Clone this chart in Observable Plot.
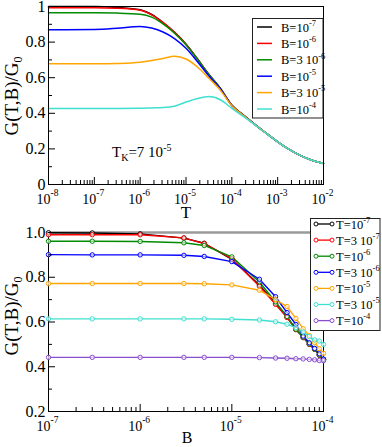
<!DOCTYPE html>
<html><head><meta charset="utf-8">
<script src="https://cdn.jsdelivr.net/npm/d3@7"></script>
<script src="https://cdn.jsdelivr.net/npm/@observablehq/plot@0.6"></script>
<style>
body{margin:0;background:#fff}
#wrap{position:relative;width:382px;height:447px;overflow:hidden;font-family:"Liberation Serif","Times New Roman",serif}
#wrap>svg{position:absolute;left:0}
</style></head><body><div id="wrap"></div>
<script>
// ---------- Top panel data: G(T,B)/G0 vs T ----------
const tValues = [1e-8, 1e-7, 3.16e-7, 1e-6, 1.78e-6, 3.16e-6, 5.62e-6, 1e-5, 1.78e-5, 3.16e-5, 5.62e-5, 1e-4, 1.78e-4, 3.16e-4, 5.62e-4, 1e-3, 1.78e-3, 3.16e-3, 5.62e-3, 1e-2];
const gB1e7  = [1.0, 1.0, 0.995, 0.982, 0.955, 0.91, 0.855, 0.788, 0.705, 0.618, 0.54, 0.445, 0.39, 0.338, 0.288, 0.24, 0.197, 0.162, 0.136, 0.118];
const gB1e6  = [0.993, 0.993, 0.99, 0.979, 0.953, 0.909, 0.855, 0.788, 0.705, 0.618, 0.54, 0.445, 0.39, 0.338, 0.288, 0.24, 0.197, 0.162, 0.136, 0.118];
const gB3e6  = [0.965, 0.965, 0.963, 0.956, 0.94, 0.902, 0.85, 0.785, 0.704, 0.618, 0.54, 0.445, 0.39, 0.338, 0.288, 0.24, 0.197, 0.162, 0.136, 0.118];
const gB1e5  = [0.869, 0.871, 0.878, 0.888, 0.879, 0.857, 0.82, 0.765, 0.69, 0.61, 0.537, 0.444, 0.39, 0.338, 0.288, 0.24, 0.197, 0.162, 0.136, 0.118];
const gB3e5  = [0.678, 0.678, 0.68, 0.687, 0.697, 0.708, 0.72, 0.705, 0.66, 0.597, 0.53, 0.443, 0.389, 0.338, 0.288, 0.24, 0.197, 0.162, 0.136, 0.118];
const gB1e4  = [0.427, 0.427, 0.427, 0.428, 0.43, 0.432, 0.44, 0.463, 0.483, 0.494, 0.476, 0.428, 0.383, 0.336, 0.287, 0.24, 0.197, 0.162, 0.136, 0.118];
const topLabels = ["B=10^-7", "B=10^-6", "B=3 10^-6", "B=10^-5", "B=3 10^-5", "B=10^-4"];
const topColors = ["#000000", "#ff0000", "#008b00", "#0000ff", "#ffa500", "#40e0d0"];
const topValues = [gB1e7, gB1e6, gB3e6, gB1e5, gB3e5, gB1e4];

// ---------- Bottom panel data: G(T,B)/G0 vs B ----------
const bValues = [1e-7, 3e-7, 1e-6, 3e-6, 5e-6, 1e-5, 2e-5, 3e-5, 4e-5, 5e-5, 6e-5, 7e-5, 8e-5, 9e-5, 1e-4];
const gT1e7 = [0.999, 0.998, 0.994, 0.975, 0.952, 0.88, 0.765, 0.683, 0.622, 0.566, 0.532, 0.5, 0.478, 0.452, 0.432];
const gT3e7 = [0.99, 0.99, 0.99, 0.976, 0.95, 0.883, 0.76, 0.679, 0.62, 0.567, 0.53, 0.5, 0.478, 0.452, 0.433];
const gT1e6 = [0.961, 0.961, 0.96, 0.954, 0.942, 0.891, 0.779, 0.69, 0.625, 0.568, 0.532, 0.502, 0.479, 0.453, 0.433];
const gT3e6 = [0.901, 0.9, 0.9, 0.898, 0.893, 0.87, 0.791, 0.713, 0.642, 0.589, 0.537, 0.507, 0.482, 0.458, 0.434];
const gT1e5 = [0.772, 0.772, 0.772, 0.772, 0.771, 0.766, 0.742, 0.7, 0.669, 0.616, 0.57, 0.539, 0.508, 0.481, 0.46];
const gT3e5 = [0.614, 0.614, 0.614, 0.614, 0.614, 0.612, 0.609, 0.601, 0.59, 0.575, 0.555, 0.535, 0.52, 0.515, 0.5];
const gT1e4 = [0.442, 0.442, 0.442, 0.442, 0.442, 0.442, 0.441, 0.439, 0.438, 0.436, 0.435, 0.433, 0.431, 0.428, 0.427];
const botLabels = ["T=10^-7", "T=3 10^-7", "T=10^-6", "T=3 10^-6", "T=10^-5", "T=3 10^-5", "T=10^-4"];
const botColors = ["#000000", "#ff0000", "#008b00", "#0000ff", "#ffa500", "#40e0d0", "#8a4fcf"];
const botValues = [gT1e7, gT3e7, gT1e6, gT3e6, gT1e5, gT3e5, gT1e4];

// ---------- Ticks ----------
const tMajor = [1e-8, 1e-7, 1e-6, 1e-5, 1e-4, 1e-3, 1e-2];
const tMajorExp = ["-8", "-7", "-6", "-5", "-4", "-3", "-2"];
const bMajor = [1e-7, 1e-6, 1e-5, 1e-4];
const bMajorExp = ["-7", "-6", "-5", "-4"];
const mantissas = [2, 3, 4, 5, 6, 7, 8, 9];
const topYMajor = [0, 0.2, 0.4, 0.6, 0.8, 1];
const topYLabels = ["0", "0.2", "0.4", "0.6", "0.8", "1"];
const topYMinor = [0.1, 0.3, 0.5, 0.7, 0.9];
const botYMajor = [0.2, 0.4, 0.6, 0.8, 1.0];
const botYLabels = ["0.2", "0.4", "0.6", "0.8", "1.0"];
const botYMinor = [0.3, 0.5, 0.7, 0.9];

const minorsOf = (majors) => majors.slice(0, -1).flatMap(d => mantissas.map(m => m * d));

const topData = topLabels.flatMap((s, i) => tValues.map((T, j) => ({s, T, G: topValues[i][j]})));
const botData = botLabels.flatMap((s, i) => bValues.map((B, j) => ({s, B, G: botValues[i][j]})));

const FONT = "Liberation Serif, Times New Roman, serif";
const W = 382, ML = 48, MR = 59, PW = W - ML - MR;
const H1 = 220, MT1 = 6, MB1 = 36, PH1 = H1 - MT1 - MB1;
const TOP2 = 220, H2 = 227, MT2 = 12, MB2 = 36, PH2 = H2 - MT2 - MB2;

const axisMarks = (majors, exps, yMajor, yLabels, yMinor, ph) => [
  Plot.tickX(majors, {x: d => d, insetTop: ph - 7, stroke: "#000", strokeWidth: 1}),
  Plot.tickX(minorsOf(majors), {x: d => d, insetTop: ph - 4, stroke: "#000", strokeWidth: 1}),
  Plot.tickY(yMajor, {y: d => d, insetRight: PW - 7, stroke: "#000", strokeWidth: 1}),
  Plot.tickY(yMinor, {y: d => d, insetRight: PW - 4, stroke: "#000", strokeWidth: 1}),
  Plot.text(majors, {x: d => d, text: () => "10", frameAnchor: "bottom", lineAnchor: "bottom", textAnchor: "end", dx: 2, dy: 19, fontSize: 14, fill: "#000"}),
  Plot.text(majors, {x: d => d, text: (d, i) => exps[i], frameAnchor: "bottom", lineAnchor: "bottom", textAnchor: "start", dx: 2, dy: 11, fontSize: 9.5, fill: "#000"}),
  Plot.text(yMajor, {y: d => d, text: (d, i) => yLabels[i], frameAnchor: "left", textAnchor: "end", dx: -3, fontSize: 16, fill: "#000"})
];

const fig1 = Plot.plot({
  width: W, height: H1, marginTop: MT1, marginBottom: MB1, marginLeft: ML, marginRight: MR,
  style: {fontFamily: FONT, background: "transparent", overflow: "visible"},
  x: {type: "log", domain: [1e-8, 1e-2], axis: null},
  y: {domain: [0, 1], axis: null},
  color: {domain: topLabels, range: topColors},
  marks: [
    Plot.line(topData, {x: "T", y: "G", z: "s", stroke: "s", strokeWidth: 1.5, curve: "monotone-x"}),
    Plot.frame({stroke: "#000", strokeWidth: 1}),
    ...axisMarks(tMajor, tMajorExp, topYMajor, topYLabels, topYMinor, PH1)
  ]
});

const fig2 = Plot.plot({
  width: W, height: H2, marginTop: MT2, marginBottom: MB2, marginLeft: ML, marginRight: MR,
  style: {fontFamily: FONT, background: "transparent", overflow: "visible"},
  x: {type: "log", domain: [1e-7, 1e-4], axis: null},
  y: {domain: [0.2, 1.0], axis: null},
  color: {domain: botLabels, range: botColors},
  marks: [
    Plot.frame({stroke: "#000", strokeWidth: 1}),
    Plot.ruleY([1.0], {stroke: "#9a9a9a", strokeWidth: 2.5}),
    Plot.line(botData, {x: "B", y: "G", z: "s", stroke: "s", strokeWidth: 1.4}),
    Plot.dot(botData, {x: "B", y: "G", stroke: "s", fill: "white", fillOpacity: 0.6, r: 2.2, strokeWidth: 1}),
    ...axisMarks(bMajor, bMajorExp, botYMajor, botYLabels, botYMinor, PH2)
  ]
});

const wrap = document.getElementById("wrap");
fig1.style.top = "0px";
fig2.style.top = TOP2 + "px";
wrap.appendChild(fig1);
wrap.appendChild(fig2);

// ---------- Overlay: titles, annotation, legends ----------
const ov = d3.select(wrap).append("svg").attr("width", W).attr("height", 447)
  .style("top", "0px").style("font-family", FONT);

function supText(g, x, y, str, size, supSize, anchor) {
  const parts = str.split("^");
  const t = g.append("text").attr("x", x).attr("y", y).attr("font-size", size).attr("fill", "#000");
  if (anchor) t.attr("text-anchor", anchor);
  t.append("tspan").text(parts[0]);
  if (parts[1]) t.append("tspan").attr("font-size", supSize).attr("dy", -size * 0.45).text(parts[1]);
  return t;
}

// y-axis titles
function yTitle(cy) {
  const t = ov.append("text").attr("transform", `translate(18,${cy}) rotate(-90)`)
    .attr("text-anchor", "middle").attr("font-size", 19).attr("fill", "#000");
  t.append("tspan").text("G(T,B)/G");
  t.append("tspan").attr("font-size", 12).attr("dy", 4).text("0");
}
yTitle(96);
yTitle(316);
// x-axis titles
ov.append("text").attr("x", 186).attr("y", 218).attr("text-anchor", "middle").attr("font-size", 17).text("T");
ov.append("text").attr("x", 187).attr("y", 443).attr("text-anchor", "middle").attr("font-size", 16).text("B");

// T_K annotation
{
  const t = ov.append("text").attr("x", 112).attr("y", 157).attr("font-size", 15).attr("fill", "#000");
  t.append("tspan").text("T");
  t.append("tspan").attr("font-size", 10).attr("dy", 4).text("K");
  t.append("tspan").attr("dy", -4).text("=7 10");
  t.append("tspan").attr("font-size", 10).attr("dy", -6).text("-5");
}

// top legend
{
  const g = ov.append("g");
  g.append("rect").attr("x", 252.5).attr("y", 18.5).attr("width", 70.5).attr("height", 99.5)
    .attr("fill", "#fff").attr("stroke", "#222").attr("stroke-width", 1);
  topLabels.forEach((s, i) => {
    const y = 27 + i * 16.4;
    g.append("line").attr("x1", 257).attr("x2", 272).attr("y1", y).attr("y2", y)
      .attr("stroke", topColors[i]).attr("stroke-width", 1.5);
    supText(g, 281, y + 4.5, s, 12.5, 8.5);
  });
}
// bottom legend
{
  const g = ov.append("g");
  g.append("rect").attr("x", 310.5).attr("y", 218.5).attr("width", 69.5).attr("height", 112)
    .attr("fill", "#fff").attr("stroke", "#222").attr("stroke-width", 1);
  botLabels.forEach((s, i) => {
    const y = 224 + i * 16.1;
    g.append("line").attr("x1", 316).attr("x2", 332).attr("y1", y).attr("y2", y)
      .attr("stroke", botColors[i]).attr("stroke-width", 1.3);
    [316, 332].forEach(cx => g.append("circle").attr("cx", cx).attr("cy", y).attr("r", 2)
      .attr("fill", "#fff").attr("stroke", botColors[i]).attr("stroke-width", 1));
    supText(g, 336, y + 4.5, s, 12.5, 8.5);
  });
}
</script></body></html>
